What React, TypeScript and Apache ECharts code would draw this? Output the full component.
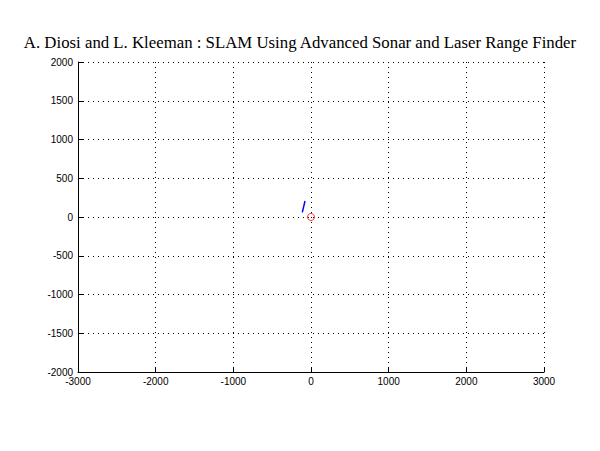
import React, { useEffect, useRef } from "react";
import * as echarts from "echarts";

const titleText = "A. Diosi and L. Kleeman : SLAM Using Advanced Sonar and Laser Range Finder";
const xTicks = [-3000, -2000, -1000, 0, 1000, 2000, 3000];
const yTicks = [-2000, -1500, -1000, -500, 0, 500, 1000, 1500, 2000];
const pathX = [-112, -95, -77];
const pathY = [60, 130, 206];
const robotX = [0];
const robotY = [0];

export default function App() {
  const ref = useRef<HTMLDivElement>(null);
  useEffect(() => {
    document.body.style.margin = "0";
    const chart = echarts.init(ref.current!, null, { renderer: "svg" });
    const labelStyle = {
      color: "#000",
      fontFamily: "Liberation Sans, Arial, sans-serif",
      fontSize: 10,
      formatter: (v: number) => String(v),
    };
    chart.setOption({
      animation: false,
      backgroundColor: "#fff",
      title: {
        text: titleText,
        left: "center",
        top: 29,
        textStyle: { fontFamily: "Liberation Serif, Times New Roman, serif", fontWeight: "normal", fontSize: 16.8, color: "#000" },
      },
      grid: { left: 78, right: 56, top: 62, bottom: 79, containLabel: false },
      xAxis: {
        type: "value",
        min: xTicks[0],
        max: xTicks[xTicks.length - 1],
        interval: 1000,
        axisLine: { show: true, onZero: false, lineStyle: { color: "#000", width: 1 } },
        axisTick: { show: true, inside: true, length: 5, lineStyle: { color: "#000" } },
        axisLabel: { ...labelStyle, margin: 4 },
        splitLine: { show: true, lineStyle: { color: "#000", type: [1, 4], width: 1 } },
      },
      yAxis: {
        type: "value",
        min: yTicks[0],
        max: yTicks[yTicks.length - 1],
        interval: 500,
        axisLine: { show: true, onZero: false, lineStyle: { color: "#000", width: 1 } },
        axisTick: { show: true, inside: true, length: 5, lineStyle: { color: "#000" } },
        axisLabel: { ...labelStyle, margin: 5 },
        splitLine: { show: true, lineStyle: { color: "#000", type: [1, 4], width: 1 } },
      },
      series: [
        {
          type: "line",
          data: pathX.map((x, i) => [x, pathY[i]]),
          symbol: "none",
          lineStyle: { color: "#0000ff", width: 1.5 },
          z: 3,
        },
        {
          type: "scatter",
          data: robotX.map((x, i) => [x, robotY[i]]),
          symbol: "circle",
          symbolSize: 7,
          itemStyle: { color: "rgba(255,255,255,0)", borderColor: "#ff0000", borderWidth: 1 },
          z: 4,
        },
      ],
    });
    return () => chart.dispose();
  }, []);
  return <div ref={ref} style={{ width: 600, height: 451 }} />;
}
